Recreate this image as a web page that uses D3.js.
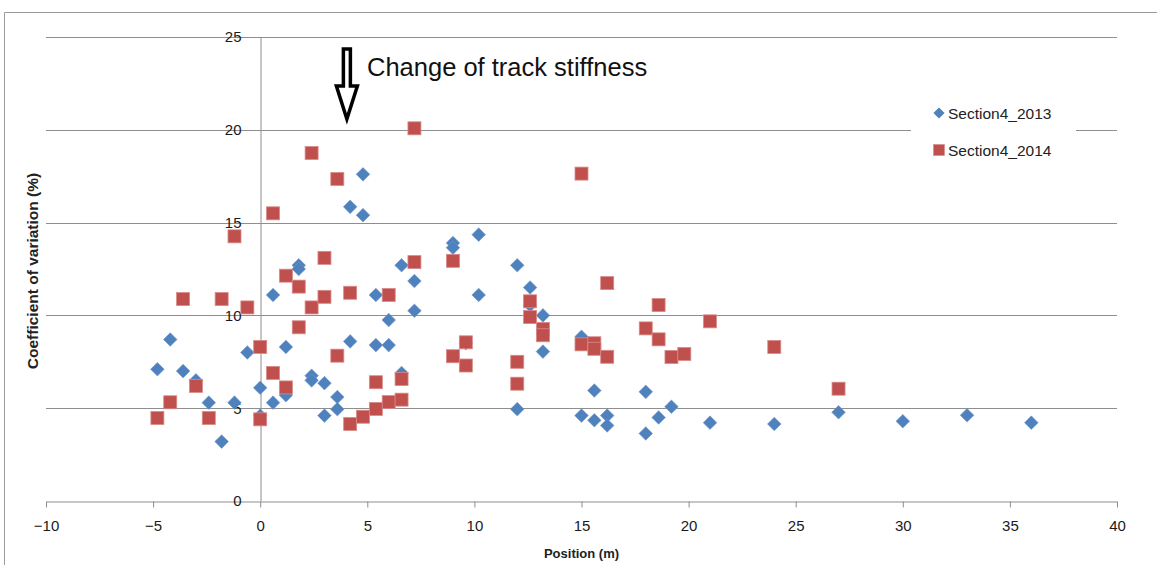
<!DOCTYPE html>
<html>
<head>
<meta charset="utf-8">
<script src="https://d3js.org/d3.v7.min.js"></script>
<style>
  body { margin: 0; background: #fff; }
  svg { display: block; }
  text { font-family: "Liberation Sans", Arial, sans-serif; }
</style>
</head>
<body>
<div id="chart"></div>
<script>
// Section4_2013 (blue diamonds)
var pos2013 = [-4.8, -4.2, -3.6, -3.0, -2.4, -1.8, -1.2, -0.6, 0, 0, 0.6, 0.6, 1.2, 1.2, 1.8, 1.8,
   2.4, 2.4, 3.0, 3.0, 3.6, 3.6, 4.2, 4.2, 4.8, 4.8, 5.4, 5.4, 6.0, 6.0, 6.6, 6.6, 7.2, 7.2,
   9.0, 9.0, 9.6, 10.2, 10.2, 12.0, 12.0, 12.6, 12.6, 13.2, 13.2, 15.0, 15.0, 15.6, 15.6,
   16.2, 16.2, 18.0, 18.0, 18.6, 19.2, 21.0, 24.0, 27.0, 30.0, 33.0, 36.0];
var cov2013 = [7.1, 8.7, 7.0, 6.5, 5.3, 3.2, 5.3, 8.0, 6.1, 4.6, 11.1, 5.3, 8.3, 5.7, 12.7, 12.5,
   6.75, 6.5, 6.35, 4.6, 5.6, 4.95, 15.85, 8.6, 17.6, 15.4, 11.1, 8.4, 9.75, 8.4, 12.7, 6.9, 11.85, 10.25,
   13.9, 13.65, 8.5, 14.35, 11.1, 12.7, 4.95, 11.5, 10.55, 10.0, 8.05, 8.85, 4.6, 5.95, 4.35,
   4.6, 4.07, 5.88, 3.64, 4.5, 5.08, 4.22, 4.15, 4.78, 4.3, 4.62, 4.22];

// Section4_2014 (red squares)
var pos2014 = [-4.8, -4.2, -3.6, -3.0, -2.4, -1.8, -1.2, -0.6, 0, 0, 0.6, 0.6, 1.2, 1.2, 1.8, 1.8,
   2.4, 2.4, 3.0, 3.0, 3.6, 3.6, 4.2, 4.2, 4.8, 5.4, 5.4, 6.0, 6.0, 6.6, 6.6, 7.2, 7.2,
   9.0, 9.0, 9.6, 9.6, 12.0, 12.0, 12.6, 12.6, 13.2, 13.2, 15.0, 15.0, 15.6, 15.6, 16.2, 16.2,
   18.0, 18.6, 18.6, 19.2, 19.8, 21.0, 24.0, 27.0];
var cov2014 = [4.47, 5.32, 10.88, 6.2, 4.47, 10.88, 14.26, 10.43, 8.3, 4.4, 15.5, 6.9, 12.14, 6.12, 11.55, 9.36,
   18.75, 10.43, 13.1, 11.0, 17.35, 7.83, 11.22, 4.15, 4.54, 6.4, 4.96, 11.1, 5.33, 6.57, 5.46, 20.08, 12.87,
   12.94, 7.8, 8.55, 7.3, 7.5, 6.32, 10.76, 9.91, 9.27, 8.93, 17.64, 8.44, 8.5, 8.2, 11.74, 7.77,
   9.3, 10.56, 8.71, 7.76, 7.92, 9.68, 8.3, 6.05];

var xTicks = [-10, -5, 0, 5, 10, 15, 20, 25, 30, 35, 40];
var yTicks = [0, 5, 10, 15, 20, 25];
var seriesNames = ["Section4_2013", "Section4_2014"];
var note = "Change of track stiffness";
var noteAt = 4;

var width = 1157, height = 565;
var blue = "#4F81BD", red = "#C0504D", gridColor = "#8e8e8e";
var tickFont = "'Liberation Sans', Arial, sans-serif";

var svg = d3.select("#chart").append("svg")
   .attr("width", width)
   .attr("height", height);

// outer frame of the chart area
svg.append("path")
   .attr("d", "M4.5," + height + "V12.5H" + width)
   .attr("fill", "none")
   .attr("stroke", "#9a9a9a")
   .attr("stroke-width", 1);

var x = d3.scaleLinear().domain([-10, 40]).range([46, 1117]);
var y = d3.scaleLinear().domain([0, 25]).range([501, 37]);

// horizontal gridlines
svg.append("g").selectAll("line")
   .data(yTicks.filter(function(d) { return d > 0; }))
   .enter().append("line")
   .attr("x1", x(-10)).attr("x2", x(40))
   .attr("y1", function(d) { return Math.round(y(d)) + 0.5; })
   .attr("y2", function(d) { return Math.round(y(d)) + 0.5; })
   .attr("stroke", gridColor)
   .attr("stroke-width", 1);

// x axis
var xAxis = svg.append("g")
   .attr("transform", "translate(0," + (Math.round(y(0)) + 0.5) + ")")
   .call(d3.axisBottom(x).tickValues(xTicks).tickSize(6).tickSizeOuter(0).tickPadding(13))
   .attr("font-size", 15)
   .attr("font-family", tickFont);
xAxis.select(".domain").attr("stroke", gridColor);
xAxis.selectAll(".tick line").attr("stroke", gridColor);
xAxis.selectAll("text").attr("fill", "#1a1a1a");

// y axis sitting at position 0
var yAxis = svg.append("g")
   .attr("transform", "translate(" + (Math.round(x(0)) + 0.5) + ",0)")
   .call(d3.axisLeft(y).tickValues(yTicks).tickSize(0).tickSizeOuter(0).tickPadding(19))
   .attr("font-size", 15)
   .attr("font-family", tickFont);
yAxis.select(".domain").attr("stroke", gridColor);
yAxis.selectAll("text").attr("fill", "#1a1a1a");

// axis titles
svg.append("text")
   .attr("x", (x(-10) + x(40)) / 2)
   .attr("y", 558)
   .attr("text-anchor", "middle")
   .style("font-size", "13px")
   .style("font-weight", "bold")
   .attr("fill", "#222")
   .text("Position (m)");

svg.append("text")
   .attr("transform", "translate(38,271) rotate(-90)")
   .attr("text-anchor", "middle")
   .style("font-size", "15.5px")
   .style("font-weight", "bold")
   .attr("fill", "#222")
   .text("Coefficient of variation (%)");

// points
var diamond = d3.symbol().type(d3.symbolDiamond2).size(118);

svg.append("g").selectAll("path")
   .data(d3.range(pos2013.length))
   .enter().append("path")
   .attr("d", diamond)
   .attr("transform", function(i) { return "translate(" + x(pos2013[i]) + "," + y(cov2013[i]) + ")"; })
   .attr("fill", blue)
   .attr("stroke", "#6f98cc")
   .attr("stroke-width", 0.6);

svg.append("g").selectAll("rect")
   .data(d3.range(pos2014.length))
   .enter().append("rect")
   .attr("x", function(i) { return x(pos2014[i]) - 6.5; })
   .attr("y", function(i) { return y(cov2014[i]) - 6.5; })
   .attr("width", 13)
   .attr("height", 13)
   .attr("fill", red)
   .attr("stroke", "#d98a88")
   .attr("stroke-width", 0.8);

// legend
var legend = svg.append("g");
legend.append("rect")
   .attr("x", 911).attr("y", 95)
   .attr("width", 165).attr("height", 75)
   .attr("fill", "#fff");

var lg = legend.selectAll("g.legend").data(seriesNames)
   .enter().append("g").attr("class", "legend")
   .attr("transform", function(d, i) { return "translate(939," + (113 + i * 37) + ")"; });

lg.each(function(d, i) {
   var c = d3.select(this);
   if (i == 0) {
      c.append("path").attr("d", d3.symbol().type(d3.symbolDiamond2).size(80)).attr("fill", blue);
   } else {
      c.append("rect").attr("x", -5.5).attr("y", -5.5).attr("width", 11).attr("height", 11)
         .attr("fill", red).attr("stroke", "#d98a88").attr("stroke-width", 0.6);
   }
   c.append("text")
      .attr("x", 9)
      .attr("dy", "0.36em")
      .style("font-size", "15.5px")
      .attr("fill", "#222")
      .text(d);
});

// annotation arrow + label
var ax = x(noteAt) + 1;
svg.append("path")
   .attr("d", "M" + (ax - 3.5) + ",49 H" + (ax + 3.5) + " V86 H" + (ax + 10.5) +
      " L" + ax + ",119 L" + (ax - 10.5) + ",86 H" + (ax - 3.5) + " Z")
   .attr("fill", "#fff")
   .attr("stroke", "#000")
   .attr("stroke-width", 3.5)
   .attr("stroke-linejoin", "miter");

svg.append("text")
   .attr("x", 367)
   .attr("y", 76)
   .style("font-size", "25.5px")
   .attr("fill", "#111")
   .text(note);
</script>
</body>
</html>
